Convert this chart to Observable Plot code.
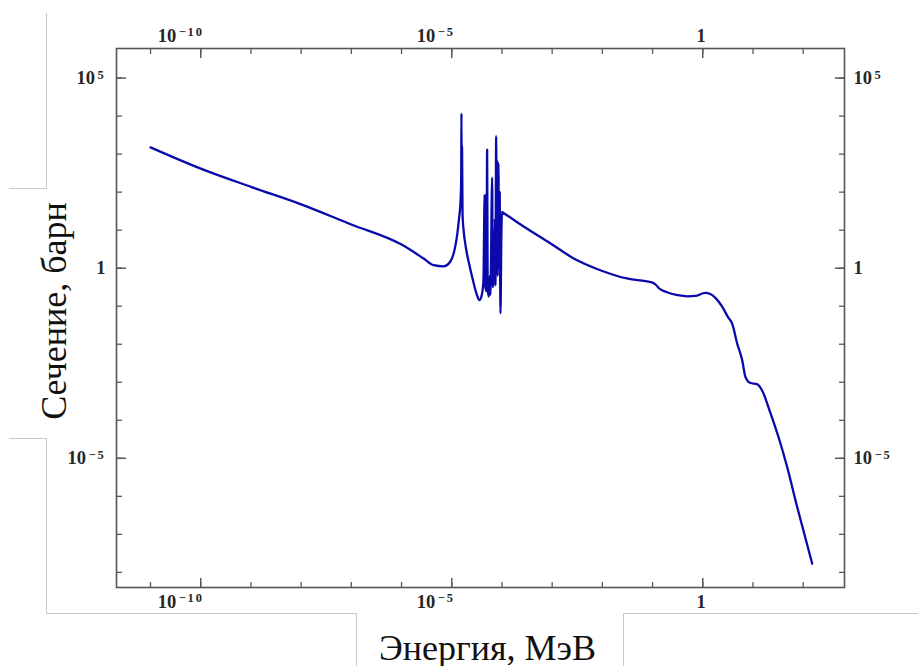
<!DOCTYPE html>
<html>
<head>
<meta charset="utf-8">
<script src="https://cdn.jsdelivr.net/npm/d3@7"></script>
<script src="https://cdn.jsdelivr.net/npm/@observablehq/plot@0.6"></script>
<style>
  html, body { margin: 0; padding: 0; background: #fff; }
  #wrap { position: relative; width: 918px; height: 666px; overflow: hidden; }
  #chart { position: absolute; left: 0; top: 0; }
  .edge { position: absolute; background: #c8c8c8; }
</style>
</head>
<body>
<div id="wrap">
  <div id="chart"></div>
  <div class="edge" style="left:46px;top:13px;width:1px;height:176px"></div>
  <div class="edge" style="left:9px;top:188px;width:38px;height:1px"></div>
  <div class="edge" style="left:9px;top:438px;width:38px;height:1px"></div>
  <div class="edge" style="left:46px;top:438px;width:1px;height:176px"></div>
  <div class="edge" style="left:46px;top:613px;width:311px;height:1px"></div>
  <div class="edge" style="left:356px;top:613px;width:1px;height:53px"></div>
  <div class="edge" style="left:623px;top:613px;width:295px;height:1px"></div>
  <div class="edge" style="left:623px;top:613px;width:1px;height:53px"></div>
</div>
<script>
// Energy, MeV
const energy = [
  1.0e-11, 1.0e-10, 1.0e-9, 1.0e-8, 1.0e-7, 1.0e-6, 2.75e-6, 4.37e-6, 6.9e-6, 9.3e-6,
  1.17e-5, 1.29e-5, 1.38e-5, 1.48e-5, 1.51e-5, 1.542e-5, 1.56e-5, 1.578e-5, 1.603e-5, 1.641e-5,
  1.738e-5, 1.905e-5, 2.188e-5, 2.57e-5, 3.16e-5, 3.55e-5, 3.89e-5, 4.27e-5, 4.52e-5, 4.62e-5,
  4.9e-5, 5.07e-5, 5.19e-5, 5.5e-5, 5.69e-5, 5.89e-5, 6.38e-5, 6.53e-5, 6.92e-5, 7.24e-5,
  7.41e-5, 7.67e-5, 7.85e-5, 8.04e-5, 8.22e-5, 8.51e-5, 8.71e-5, 9.02e-5, 9.23e-5, 9.33e-5,
  9.77e-5, 1.0e-4, 1.057e-4, 2.75e-4, 9.3e-4, 2.69e-3, 9.1e-3, 3.09e-2, 6.3e-2, 0.1,
  0.112, 0.141, 0.2, 0.316, 0.5, 0.708, 1.12, 1.41, 1.78, 2.4,
  3.16, 3.85, 4.84, 6.1, 7.08, 8.9, 12.0, 15.1, 22.4, 35.3,
  47.9, 75.9, 151
];
// Cross-section, barn
const sigma = [
  1510, 417, 138, 47.9, 14.1, 4.17, 1.8, 1.2, 1.12, 1.48,
  3.63, 8.0, 17.8, 45.0, 75.9, 251, 11750, 100, 1550, 25.1,
  8.9, 3.55, 1.41, 0.562, 0.2, 0.145, 0.178, 0.447, 83.2, 0.355,
  0.251, 1320, 0.282, 0.178, 0.631, 0.2, 240, 0.316, 0.501, 20.0,
  0.355, 2950, 2.0, 692, 0.631, 575, 1.0, 100, 0.316, 0.0646,
  10.0, 30.2, 28.8, 12.3, 4.47, 1.8, 0.885, 0.537, 0.468, 0.417,
  0.38, 0.282, 0.229, 0.195, 0.182, 0.186, 0.224, 0.209, 0.166, 0.1,
  0.0525, 0.0347, 0.0105, 0.00380, 0.00138, 0.000955, 0.000891, 0.000617, 0.000151, 2.45e-5,
  5.89e-6, 5.25e-7, 1.70e-8
];

const xDecades = [1e-11, 1e-10, 1e-9, 1e-8, 1e-7, 1e-6, 1e-5, 1e-4, 1e-3, 1e-2, 1e-1, 1, 10, 100];
const yDecades = [1e-8, 1e-7, 1e-6, 1e-5, 1e-4, 1e-3, 1e-2, 1e-1, 1, 10, 100, 1e3, 1e4, 1e5];
const xTickValues = [1e-10, 1e-5, 1];
const xTickLabels = ["10^-10", "10^-5", "1"];
const yTickValues = [1e5, 1, 1e-5];
const yTickLabels = ["10^5", "1", "10^-5"];
const xTitle = "Энергия, МэВ";
const yTitle = "Сечение, барн";

const data = energy.map((e, i) => ({e, s: sigma[i]}));
const xFmt = d => xTickLabels[xTickValues.indexOf(d)] ?? "";
const yFmt = d => yTickLabels[yTickValues.indexOf(d)] ?? "";

const tickStroke = "#5a5a5a";
const labelFont = {fontFamily: "Liberation Serif", fontWeight: "bold", fontSize: 18.5, fill: "#262626", stroke: "#262626", strokeWidth: 0.35};

const chart = Plot.plot({
  width: 918,
  height: 666,
  marginLeft: 116,
  marginRight: 74,
  marginTop: 48,
  marginBottom: 79,
  x: {type: "log", domain: [2.1e-12, 665]},
  y: {type: "log", domain: [4.0e-9, 6.0e5]},
  marks: [
    // minor ticks (inward)
    Plot.axisX(xDecades, {anchor: "bottom", tickSize: -5, tickFormat: () => "", stroke: tickStroke, strokeWidth: 1.3, label: null}),
    Plot.axisX(xDecades, {anchor: "top", tickSize: -5, tickFormat: () => "", stroke: tickStroke, strokeWidth: 1.3, label: null}),
    Plot.axisY(yDecades, {anchor: "left", tickSize: -6, tickFormat: () => "", stroke: tickStroke, strokeWidth: 1.3, label: null}),
    Plot.axisY(yDecades, {anchor: "right", tickSize: -6, tickFormat: () => "", stroke: tickStroke, strokeWidth: 1.3, label: null}),
    // major ticks (inward)
    Plot.axisX(xTickValues, {anchor: "bottom", tickSize: -9, tickFormat: () => "", stroke: tickStroke, strokeWidth: 1.5, label: null}),
    Plot.axisX(xTickValues, {anchor: "top", tickSize: -9, tickFormat: () => "", stroke: tickStroke, strokeWidth: 1.5, label: null}),
    Plot.axisY(yTickValues, {anchor: "left", tickSize: -10, tickFormat: () => "", stroke: tickStroke, strokeWidth: 1.5, label: null}),
    Plot.axisY(yTickValues, {anchor: "right", tickSize: -10, tickFormat: () => "", stroke: tickStroke, strokeWidth: 1.5, label: null}),
    // tick labels
    Plot.axisX(xTickValues, {anchor: "bottom", tickSize: 0, tickPadding: 7, textAnchor: "end", dx: 3, tickFormat: xFmt, label: null, ...labelFont}),
    Plot.axisX(xTickValues, {anchor: "top", tickSize: 0, tickPadding: 7, textAnchor: "end", dx: 3, tickFormat: xFmt, label: null, ...labelFont}),
    Plot.axisY(yTickValues, {anchor: "left", tickSize: 0, tickPadding: 11, tickFormat: yFmt, label: null, ...labelFont}),
    Plot.axisY(yTickValues, {anchor: "right", tickSize: 0, tickPadding: 9, tickFormat: yFmt, label: null, ...labelFont}),
    Plot.frame({stroke: "#555", strokeWidth: 1.6}),
    Plot.line(data, {x: "e", y: "s", stroke: "#0a0aac", strokeWidth: 2.3, strokeLinejoin: "round", curve: "monotone-x"}),
    // axis titles
    Plot.text([yTitle], {frameAnchor: "left", textAnchor: "middle", lineAnchor: "middle", dx: -62, dy: -7, rotate: -90, fontSize: 36, fontFamily: "Liberation Serif", fill: "#111"}),
    Plot.text([xTitle], {frameAnchor: "bottom", textAnchor: "middle", lineAnchor: "bottom", dx: 7, dy: 72, fontSize: 36, fontFamily: "Liberation Serif", fill: "#111"})
  ]
});

// Render "10^n" tick labels with a raised exponent
chart.querySelectorAll("text").forEach(t => {
  const m = /^10\^(.+)$/.exec(t.textContent);
  if (!m) return;
  const ns = "http://www.w3.org/2000/svg";
  t.textContent = "";
  const base = document.createElementNS(ns, "tspan");
  base.textContent = "10";
  const sup = document.createElementNS(ns, "tspan");
  sup.textContent = m[1].replace("-", "\u2212");
  sup.setAttribute("font-size", "12.5");
  sup.setAttribute("dy", "-5.5");
  sup.setAttribute("dx", "2.5");
  sup.setAttribute("letter-spacing", "1.8");
  t.appendChild(base);
  t.appendChild(sup);
});

document.getElementById("chart").appendChild(chart);
</script>
</body>
</html>
